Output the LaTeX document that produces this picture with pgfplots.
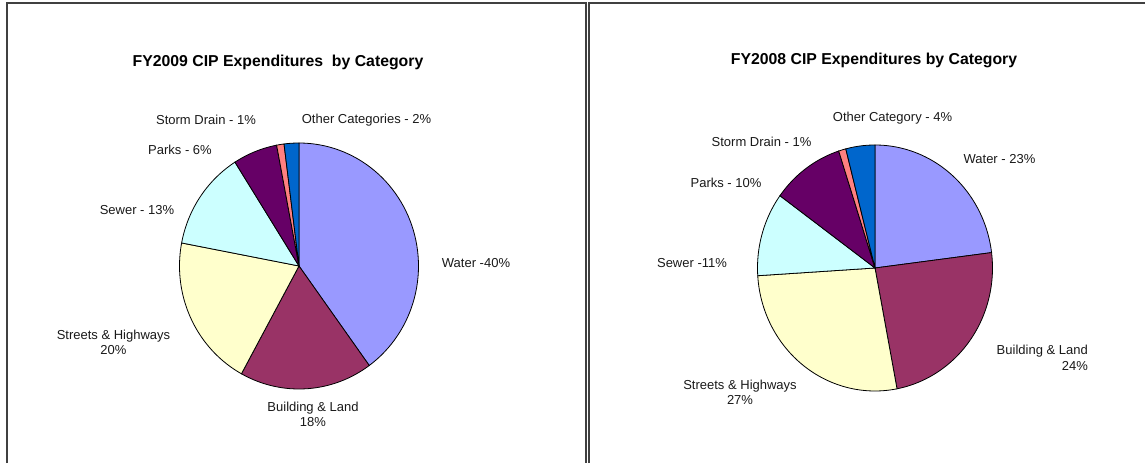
\documentclass[border=0pt]{standalone}
\usepackage{fontspec}
\setmainfont{Liberation Sans}
\usepackage{pgfplots}
\pgfplotsset{compat=1.18}
\definecolor{cWater}{HTML}{9999FF}
\definecolor{cBuild}{HTML}{993366}
\definecolor{cStreet}{HTML}{FFFFCC}
\definecolor{cSewer}{HTML}{CCFFFF}
\definecolor{cParks}{HTML}{660066}
\definecolor{cStorm}{HTML}{FF8080}
\definecolor{cOther}{HTML}{0066CC}
% #1 rx, #2 ry, #3 cumulative start %, #4 cumulative end %, #5 colour
\newcommand{\slice}[5]{%
  \addplot[draw=black, line width=0.8pt, fill=#5, samples=60,
    domain={90-3.6*#4}:{90-3.6*#3}]
    ({#1*cos(x)},{#2*sin(x)}) -- (axis cs:0,0) -- cycle;
}
\newcommand{\lab}{\fontsize{13}{15}\selectfont}
\newcommand{\ttl}{\fontsize{15.8}{18}\selectfont\bfseries}
\begin{document}
\begin{tikzpicture}[x=1pt,y=1pt]
\useasboundingbox (0,0) rectangle (1145,463);
% panel borders
\draw[black!75, line width=1.6pt] (7,0) -- (7,460) -- (586,460) -- (586,0);
\draw[black!75, line width=1.6pt] (589,0) -- (589,460) -- (1145,460);

% FY2009 pie
\begin{axis}[at={(299pt,197pt)}, anchor=center, hide axis, scale only axis,
  x=1pt, y=1pt, xmin=-130, xmax=130, ymin=-130, ymax=130, clip=false]
\slice{119.5}{123}{0}{40}{cWater}
\slice{119.5}{123}{40}{58}{cBuild}
\slice{119.5}{123}{58}{78}{cStreet}
\slice{119.5}{123}{78}{91}{cSewer}
\slice{119.5}{123}{91}{97}{cParks}
\slice{119.5}{123}{97}{98}{cStorm}
\slice{119.5}{123}{98}{100}{cOther}
\end{axis}

% FY2008 pie
\begin{axis}[at={(875pt,195pt)}, anchor=center, hide axis, scale only axis,
  x=1pt, y=1pt, xmin=-130, xmax=130, ymin=-130, ymax=130, clip=false]
\slice{117.5}{123}{0}{23}{cWater}
\slice{117.5}{123}{23}{47}{cBuild}
\slice{117.5}{123}{47}{74}{cStreet}
\slice{117.5}{123}{74}{85}{cSewer}
\slice{117.5}{123}{85}{95}{cParks}
\slice{117.5}{123}{95}{96}{cStorm}
\slice{117.5}{123}{96}{100}{cOther}
\end{axis}

% titles
\node[anchor=base, inner sep=0pt, font=\ttl] at (278,396.3) {FY2009 CIP Expenditures\ \ by Category};
\node[anchor=base, inner sep=0pt, font=\ttl] at (874,398) {FY2008 CIP Expenditures by Category};

% FY2009 labels
\begin{scope}[every node/.style={anchor=base, inner sep=0pt, font=\lab, text=black!90}]
\node at (366.5,339) {Other Categories - 2\%};
\node at (206,338) {Storm Drain - 1\%};
\node at (180,308) {Parks - 6\%};
\node at (137,248) {Sewer - 13\%};
\node at (476,195.7) {Water -40\%};
\node at (113.5,123) {Streets \& Highways};
\node at (113.5,108) {20\%};
\node at (313,51.3) {Building \& Land};
\node at (313,37) {18\%};
% FY2008 labels
\node at (892.5,341) {Other Category - 4\%};
\node at (761.5,316.3) {Storm Drain - 1\%};
\node at (726,275.3) {Parks - 10\%};
\node at (692,195) {Sewer -11\%};
\node at (999.5,299) {Water - 23\%};
\node at (740,73) {Streets \& Highways};
\node at (740,58) {27\%};
\node[anchor=base east] at (1088,108) {Building \& Land};
\node[anchor=base east] at (1088,92) {24\%};
\end{scope}
\end{tikzpicture}
\end{document}
